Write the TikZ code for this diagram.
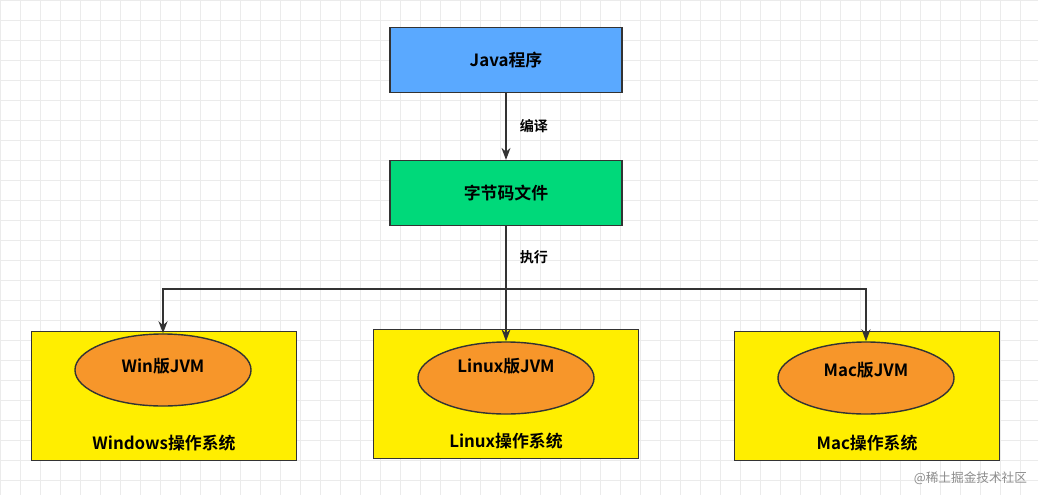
\documentclass[tikz,border=0pt]{standalone}
\usepackage{fontspec}
\setmainfont{Noto Sans CJK SC}[BoldFont={* Bold}]
\usetikzlibrary{shapes.geometric, arrows.meta, positioning}
\definecolor{javablue}{HTML}{5AA9FF}
\definecolor{codegreen}{HTML}{00D97A}
\definecolor{osyellow}{HTML}{FFEE00}
\definecolor{jvmorange}{HTML}{F7962A}
\tikzstyle{box} = [rectangle, draw=black!80, line width=1pt, minimum width=5.8cm, minimum height=1.62cm, text centered, font=\bfseries\large]
\tikzstyle{os} = [rectangle, draw=black!80, line width=1pt, minimum width=6.63cm, minimum height=3.22cm]
\tikzstyle{jvm} = [ellipse, draw=black!80, line width=1pt, fill=jvmorange, minimum width=4.4cm, minimum height=1.8cm]
\tikzstyle{arrow} = [line width=1pt, draw=black!80, -{Stealth[length=3mm]}]
\tikzstyle{lbl} = [font=\bfseries]

\begin{document}
\begin{tikzpicture}[x=0.025cm, y=-0.025cm]
        \useasboundingbox (0,0) rectangle (1038,495);
        \fill[white] (0,0) rectangle (1038,495);
        \foreach \i in {0,20,...,1038} \draw[black!8] (\i,0) -- (\i,495);
        \foreach \j in {0,20,...,495} \draw[black!8] (0,\j) -- (1038,\j);

        \node (java) [box, fill=javablue] at (506,60) {Java程序};
        \node (bytecode) [box, fill=codegreen] at (506,193) {字节码文件};

        \node (win_os) [os, fill=osyellow] at (164,396) {};
        \node (linux_os) [os, fill=osyellow] at (506,394) {};
        \node (mac_os) [os, fill=osyellow] at (867,396) {};

        \node (win_jvm) [jvm] at (163,370) {};
        \node (linux_jvm) [jvm] at (506,378) {};
        \node (mac_jvm) [jvm] at (866,378) {};
        \node [lbl, font=\bfseries\large] at (163,366) {Win版JVM};
        \node [lbl, font=\bfseries\large] at (506,366) {Linux版JVM};
        \node [lbl, font=\bfseries\large] at (866,370) {Mac版JVM};

        \node (win_txt) [lbl, font=\bfseries\large] at (164,443) {Windows操作系统};
        \node (linux_txt) [lbl, font=\bfseries\large] at (506,441) {Linux操作系统};
        \node (mac_txt) [lbl, font=\bfseries\large] at (867,443) {Mac操作系统};

        \coordinate (split) at (506,289);
        \draw[arrow] (java) -- node[lbl, right=6pt] {编译} (bytecode);
        \draw[line width=1pt, draw=black!80] (bytecode) -- node[lbl, right=6pt, pos=0.5] {执行} (split);
        \draw[arrow] (split) -- (linux_jvm);
        \draw[arrow] (split) -| (win_jvm);
        \draw[arrow] (split) -| (mac_jvm);

        \node (mark) [text=black!45, font=\small, anchor=east] at (1032,478) {@稀土掘金技术社区};
    \end{tikzpicture}
\end{document}
